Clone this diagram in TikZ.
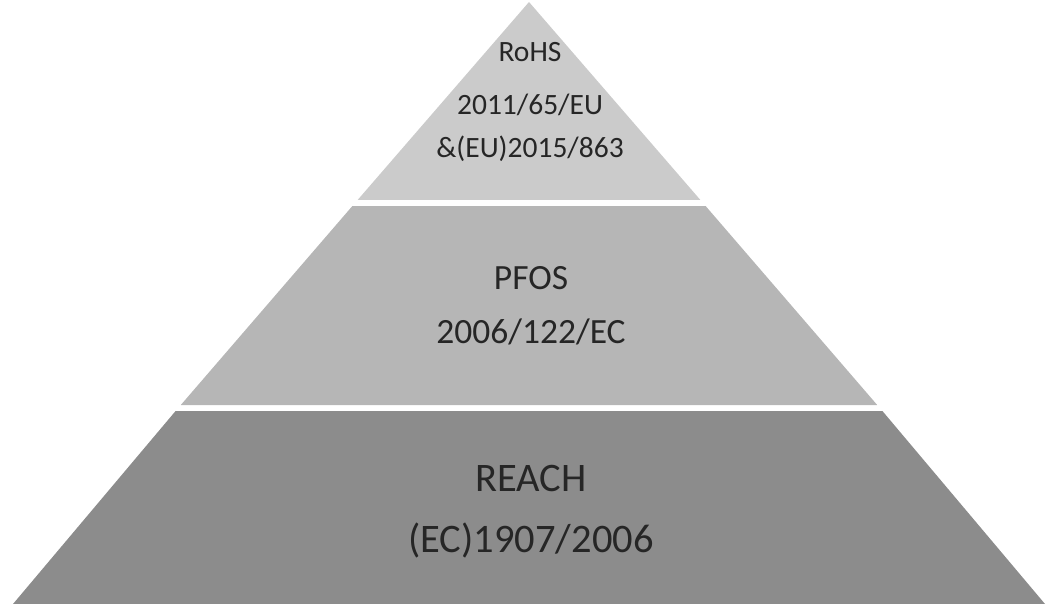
\documentclass[tikz,border=0pt]{standalone}
\usepackage{fontspec}
\setmainfont{Carlito}
\definecolor{tiertop}{RGB}{203,203,203}
\definecolor{tiermid}{RGB}{182,182,182}
\definecolor{tierbot}{RGB}{140,140,140}
\definecolor{txt}{RGB}{38,38,38}
\begin{document}
\begin{tikzpicture}[x=1pt,y=-1pt,
  tier/.style={draw=none},
  lbl/.style={anchor=base,text=txt,inner sep=0pt},
  fs/.style={font=\fontsize{#1}{#1}\selectfont}]
\useasboundingbox (0,0) rectangle (1046,604);
% overall triangle: apex (529,2), base 13..1045 at y=604; half width = 516*(y-2)/602
\fill[tiertop] (529,2) -- (700.4,200) -- (357.6,200) -- cycle;
\fill[tiermid] (705.6,206) -- (877.2,405) -- (180.8,405) -- (352.4,206) -- cycle;
\fill[tierbot] (882.4,411) -- (1045,604) -- (13,604) -- (175.6,411) -- cycle;
% top tier
\node[lbl,fs=29.5] (t1) at (530,62) {RoHS};
\node[lbl,fs=29.5] (t2) at (530,115) {2011/65/EU};
\node[lbl,fs=29.5] (t3) at (530,158) {\&(EU)2015/863};
% middle tier
\node[lbl,fs=35.5] (m1) at (531,289) {PFOS};
\node[lbl,fs=35.5] (m2) at (531,343) {2006/122/EC};
% bottom tier
\node[lbl,fs=40.5] (b1) at (531,491) {REACH};
\node[lbl,fs=40.5] (b2) at (531,552) {(EC)1907/2006};
\end{tikzpicture}
\end{document}
